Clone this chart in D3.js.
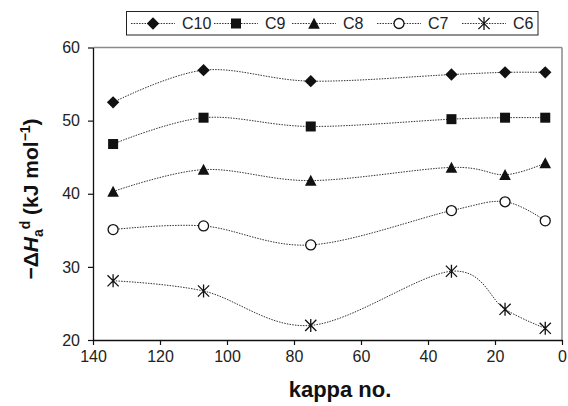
<!DOCTYPE html>
<html>
<head>
<meta charset="utf-8">
<script src="https://cdn.jsdelivr.net/npm/d3@7"></script>
<style>
  html, body { margin: 0; padding: 0; background: #fff; }
  svg { display: block; font-family: Arial, "Liberation Sans", Helvetica, sans-serif; }
</style>
</head>
<body>
<svg id="chart" width="568" height="406"></svg>
<script>
// ---- data ----
const kappa = [134, 107, 75, 33, 17, 5];
const seriesNames = ["C10", "C9", "C8", "C7", "C6"];
const C10 = [52.5, 56.9, 55.4, 56.3, 56.6, 56.6];
const C9  = [46.8, 50.4, 49.2, 50.2, 50.4, 50.4];
const C8  = [40.3, 43.3, 41.8, 43.6, 42.6, 44.2];
const C7  = [35.1, 35.6, 33.0, 37.7, 38.9, 36.3];
const C6  = [28.1, 26.7, 22.0, 29.4, 24.2, 21.6];
const xTicks = [140, 120, 100, 80, 60, 40, 20, 0];
const yTicks = [20, 30, 40, 50, 60];

const seriesValues = [C10, C9, C8, C7, C6];
const markerTypes = ["diamond", "square", "triangle", "circle", "asterisk"];

// ---- layout ----
const svg = d3.select("#chart");
const L = 93, R = 562, T = 47.5, B = 340;
const x = d3.scaleLinear().domain([140, 0]).range([L, R]);
const y = d3.scaleLinear().domain([20, 60]).range([B, T]);

// frame: top & right gray
svg.append("line").attr("x1", L).attr("x2", R).attr("y1", T).attr("y2", T)
  .attr("stroke", "#8a8a8a").attr("stroke-width", 1.5);
svg.append("line").attr("x1", R).attr("x2", R).attr("y1", T).attr("y2", B)
  .attr("stroke", "#8a8a8a").attr("stroke-width", 1.5);

// axes
const xAxis = svg.append("g").attr("transform", `translate(0,${B})`)
  .call(d3.axisBottom(x).tickValues(xTicks).tickSize(5).tickSizeOuter(0).tickPadding(6).tickFormat(d3.format("d")));
const yAxis = svg.append("g").attr("transform", `translate(${L},0)`)
  .call(d3.axisLeft(y).tickValues(yTicks).tickSize(5).tickSizeOuter(0).tickPadding(8).tickFormat(d3.format("d")));
[xAxis, yAxis].forEach(g => {
  g.select(".domain").attr("stroke", "#111").attr("stroke-width", 1.3);
  g.selectAll(".tick line").attr("stroke", "#111").attr("stroke-width", 1.2);
  g.selectAll(".tick text").attr("fill", "#222").style("font-size", "16px")
    .style("font-family", 'Arial, "Liberation Sans", Helvetica, sans-serif');
});

// ---- markers ----
function drawMarker(g, type, cx, cy) {
  const col = "#111";
  if (type === "diamond") {
    g.append("path").attr("d", `M${cx},${cy-6.2}L${cx+6.2},${cy}L${cx},${cy+6.2}L${cx-6.2},${cy}Z`).attr("fill", col);
  } else if (type === "square") {
    g.append("rect").attr("x", cx-5).attr("y", cy-5).attr("width", 10).attr("height", 10).attr("fill", col);
  } else if (type === "triangle") {
    g.append("path").attr("d", `M${cx},${cy-5.8}L${cx+5.8},${cy+5.2}L${cx-5.8},${cy+5.2}Z`).attr("fill", col);
  } else if (type === "circle") {
    g.append("circle").attr("cx", cx).attr("cy", cy).attr("r", 5).attr("fill", "#fff")
      .attr("stroke", col).attr("stroke-width", 1.3);
  } else if (type === "asterisk") {
    g.append("path").attr("d",
      `M${cx},${cy-6.5}V${cy+6.5}M${cx-5.6},${cy-5.6}L${cx+5.6},${cy+5.6}M${cx-5.6},${cy+5.6}L${cx+5.6},${cy-5.6}`)
      .attr("stroke", col).attr("stroke-width", 1.3).attr("fill", "none");
  }
}

// ---- lines ----
const line = d3.line()
  .x((d, i) => x(kappa[i]))
  .y(d => y(d))
  .curve(d3.curveCatmullRom.alpha(0));

seriesValues.forEach((vals, si) => {
  svg.append("path").datum(vals).attr("d", line)
    .attr("fill", "none").attr("stroke", "#333").attr("stroke-width", 1)
    .attr("stroke-dasharray", "1.5,1.2");
});
seriesValues.forEach((vals, si) => {
  const g = svg.append("g");
  vals.forEach((v, i) => drawMarker(g, markerTypes[si], x(kappa[i]), y(v)));
});

// ---- legend ----
const legTextX = [182, 265, 343, 428, 513];
const legY = 23.5;
svg.append("rect").attr("x", 126.5).attr("y", 11.5).attr("width", 411.5).attr("height", 23.5)
  .attr("fill", "#fff").attr("stroke", "#222").attr("stroke-width", 1);
seriesNames.forEach((name, i) => {
  const tx = legTextX[i];
  svg.append("line").attr("x1", tx - 51).attr("x2", tx - 7).attr("y1", legY).attr("y2", legY)
    .attr("stroke", "#333").attr("stroke-width", 1).attr("stroke-dasharray", "1.5,1.2");
  drawMarker(svg, markerTypes[i], tx - 29, legY);
  svg.append("text").attr("x", tx).attr("y", legY + 5.5).attr("fill", "#222")
    .style("font-size", "16px").text(name);
});

// ---- axis titles ----
svg.append("text").attr("x", 340).attr("y", 397).attr("text-anchor", "middle")
  .style("font-size", "22px").style("font-weight", "bold").attr("fill", "#111").text("kappa no.");

const yt = svg.append("text")
  .attr("transform", "translate(38,199) rotate(-90)")
  .attr("text-anchor", "middle")
  .style("font-size", "21px").style("font-weight", "bold").attr("fill", "#111");
yt.append("tspan").text("\u2212\u0394");
yt.append("tspan").style("font-style", "italic").text("H");
yt.append("tspan").attr("dy", 5).style("font-size", "14px").text("a");
yt.append("tspan").attr("dy", -13).style("font-size", "14px").text("d");
yt.append("tspan").attr("dy", 8).text(" (kJ mol");
yt.append("tspan").attr("dy", -8).style("font-size", "14px").text("\u22121");
yt.append("tspan").attr("dy", 8).text(")");
</script>
</body>
</html>
